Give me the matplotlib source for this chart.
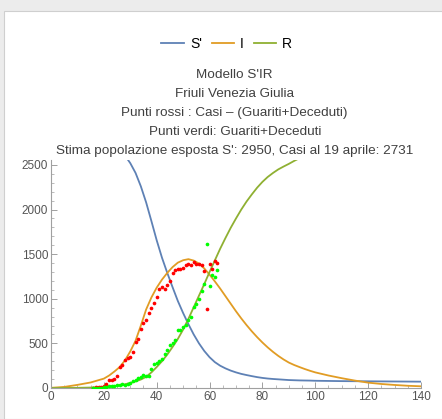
import matplotlib
matplotlib.use("Agg")
import matplotlib.pyplot as plt
from matplotlib.patches import Rectangle
from matplotlib.lines import Line2D
from matplotlib.ticker import MultipleLocator

plt.rcParams['font.family'] = ['Liberation Sans', 'DejaVu Sans']

# --- model curves ---
t_model = [0, 5, 10, 15, 20, 22, 24, 26, 28, 30, 32, 34, 36, 38, 40, 42, 44, 46, 48,
           50, 52, 54, 56, 58, 60, 62, 64, 66, 68, 70, 72, 74, 76, 78, 80, 82, 84,
           86, 88, 90, 92, 94, 96, 98, 100, 105, 110, 115, 120, 125, 130, 135, 140]
S_model = [2950, 2945, 2925, 2890, 2830, 2790, 2740, 2680, 2605, 2520, 2410, 2260,
           2080, 1870, 1655, 1460, 1290, 1130, 975, 840, 715, 600, 500, 415, 345,
           290, 250, 220, 195, 175, 158, 145, 133, 122, 113, 106, 101, 97, 93, 89,
           87, 85, 84, 83, 81, 79, 77, 76, 75, 74, 73, 72, 71]
I_model = [2, 12, 35, 62, 105, 140, 185, 235, 310, 410, 530, 700, 880, 1015, 1125,
           1215, 1290, 1355, 1405, 1432, 1444, 1428, 1395, 1340, 1270, 1195, 1115,
           1030, 945, 860, 780, 705, 635, 570, 510, 455, 405, 360, 320, 285, 258,
           235, 213, 193, 175, 140, 110, 83, 60, 45, 34, 25, 19]
R_model = [0, 1, 2, 5, 12, 17, 22, 30, 42, 57, 74, 95, 125, 175, 235, 300, 375, 460,
           550, 655, 775, 905, 1035, 1165, 1300, 1430, 1560, 1680, 1795, 1900, 2000,
           2090, 2170, 2245, 2310, 2365, 2410, 2450, 2482, 2512, 2545, 2575, 2600,
           2625, 2650, 2710, 2760, 2795, 2820, 2840, 2855, 2865, 2872]

# --- data points ---
days = list(range(16, 64))
red_pts = [4, 6, 10, 15, 26, 50, 85, 95, 98, 140, 230, 255, 310, 340, 345, 405, 510,
           545, 660, 730, 760, 840, 900, 955, 1020, 1115, 1135, 1105, 1155, 1200,
           1290, 1320, 1330, 1330, 1340, 1375, 1395, 1375, 1415, 1385, 1390, 1375,
           1310, 890, 1390, 1330, 1420, 1400]
green_pts = [1, 2, 3, 5, 8, 12, 18, 20, 25, 28, 35, 50, 30, 50, 55, 75, 95, 110,
             125, 145, 140, 140, 215, 265, 285, 305, 330, 380, 425, 480, 500, 535,
             650, 645, 680, 710, 765, 800, 910, 945, 1000, 1090, 1165, 1610, 1145,
             1270, 1240, 1320]

blue = '#5E81B5'
orange = '#E19C24'
green = '#8FB032'

fig = plt.figure(figsize=(4.42, 4.19), dpi=100)
fig.patch.set_facecolor('#ececec')
fig.patches.append(Rectangle((4 / 442, 0), 1, 1 - 11 / 419, transform=fig.transFigure,
                             facecolor='white', edgecolor='#cfcfcf', linewidth=0.8,
                             zorder=-10))

ax = fig.add_axes([0.1154, 0.074, 0.837, 0.543])
ax.set_facecolor('none')
ax.plot(t_model, S_model, color=blue, lw=1.3)
ax.plot(t_model, I_model, color=orange, lw=1.3)
ax.plot(t_model, R_model, color=green, lw=1.3)
ax.scatter(days, red_pts, s=7, color='#ff0000', zorder=3, linewidths=0)
ax.scatter(days, green_pts, s=7, color='#00ff00', zorder=3, linewidths=0)

ax.set_xlim(0, 140)
ax.set_ylim(0, 2550)
ax.set_xticks(range(0, 141, 20))
ax.set_yticks(range(0, 2501, 500))
ax.xaxis.set_minor_locator(MultipleLocator(5))
ax.yaxis.set_minor_locator(MultipleLocator(100))
for s in ['top', 'right']:
    ax.spines[s].set_visible(False)
for s in ['left', 'bottom']:
    ax.spines[s].set_color('#a0a0a0')
    ax.spines[s].set_linewidth(0.8)
ax.tick_params(which='major', direction='in', length=4, width=0.7, color='#a0a0a0',
               labelsize=8.5, labelcolor='#555555', pad=2)
ax.tick_params(which='minor', direction='in', length=2, width=0.6, color='#b0b0b0')

titles = ["Modello S'IR", "Friuli Venezia Giulia",
          "Punti rossi : Casi \u2013 (Guariti+Deceduti)",
          "Punti verdi: Guariti+Deceduti",
          "Stima popolazione esposta S': 2950, Casi al 19 aprile: 2731"]
for i, line in enumerate(titles):
    fig.text(0.531, 1 - (75 + 19 * i) / 419, line, ha='center', va='center',
             fontsize=9.7, color='#404040')

handles = [Line2D([], [], color=blue, lw=1.3), Line2D([], [], color=orange, lw=1.3),
           Line2D([], [], color=green, lw=1.3)]
fig.legend(handles, ["S'", "I", "R"], loc='center', bbox_to_anchor=(0.513, 1 - 44 / 419),
           ncol=3, frameon=False, fontsize=10, handlelength=1.65, handletextpad=0.4,
           columnspacing=0.7)

fig.savefig('out.png', dpi=100, facecolor=fig.get_facecolor())
